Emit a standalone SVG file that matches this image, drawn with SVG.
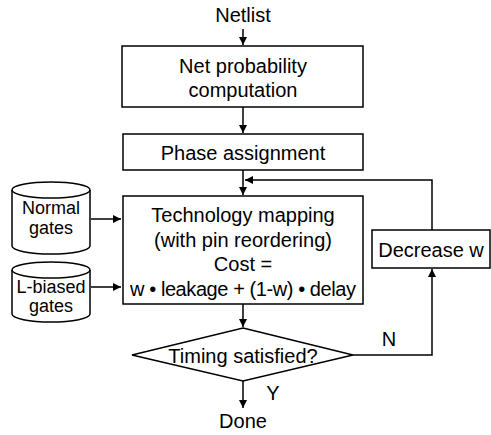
<svg xmlns="http://www.w3.org/2000/svg" width="491" height="435" viewBox="0 0 491 435">
<style>
.s{fill:#fff;stroke:#000;stroke-width:1.5}
.l{fill:none;stroke:#000;stroke-width:1.5}
text{font-family:"Liberation Sans",Arial,sans-serif;font-size:20px;fill:#000;text-anchor:middle}
.c{font-size:18px}
</style>
<defs>
<marker id="a" viewBox="0 0 10 10" refX="10" refY="5" markerWidth="8" markerHeight="8" markerUnits="userSpaceOnUse" orient="auto">
<path d="M0,0 L10,5 L0,10 Z" fill="#000"/>
</marker>
</defs>
<g id="connectors">
<line class="l" x1="243" y1="29" x2="243" y2="45" marker-end="url(#a)"/>
<line class="l" x1="243" y1="107" x2="243" y2="133" marker-end="url(#a)"/>
<line class="l" x1="243" y1="170" x2="243" y2="195" marker-end="url(#a)"/>
<polyline class="l" points="432,230 432,180 245,180" marker-end="url(#a)"/>
<line class="l" x1="91" y1="219" x2="121" y2="219" marker-end="url(#a)"/>
<line class="l" x1="91" y1="287" x2="121" y2="287" marker-end="url(#a)"/>
<line class="l" x1="243" y1="304" x2="243" y2="327" marker-end="url(#a)"/>
<polyline class="l" points="353,355 432,355 432,269" marker-end="url(#a)"/>
<line class="l" x1="243" y1="381" x2="243" y2="408" marker-end="url(#a)"/>
<text x="389" y="346">N</text>
<text x="273" y="400">Y</text>
</g>
<g id="netlist"><text x="243" y="22">Netlist</text></g>
<g id="netprob">
<rect class="s" x="122" y="46" width="241" height="61"/>
<text x="243" y="73">Net probability</text>
<text x="243" y="97">computation</text>
</g>
<g id="phase">
<rect class="s" x="123" y="134" width="240" height="36"/>
<text x="243" y="160">Phase assignment</text>
</g>
<g id="techmap">
<rect class="s" x="123" y="196" width="240" height="108"/>
<text x="243" y="222">Technology mapping</text>
<text x="243" y="247">(with pin reordering)</text>
<text x="243" y="271">Cost =</text>
<text x="243" y="296" textLength="226" lengthAdjust="spacing">w • leakage + (1-w) • delay</text>
</g>
<g id="normal">
<path class="s" d="M12,190 V246 A39,8 0 0 0 90,246 V190"/>
<ellipse class="s" cx="51" cy="190" rx="39" ry="8"/>
<text class="c" x="51" y="214">Normal</text>
<text class="c" x="51" y="234">gates</text>
</g>
<g id="lbiased">
<path class="s" d="M12,270 V314 A39,8 0 0 0 90,314 V270"/>
<ellipse class="s" cx="51" cy="270" rx="39" ry="8"/>
<text class="c" x="51" y="293">L-biased</text>
<text class="c" x="51" y="312">gates</text>
</g>
<g id="decision">
<polygon class="s" points="243,328 353,355 243,381 132,355"/>
<text x="243" y="363">Timing satisfied?</text>
</g>
<g id="decrease">
<rect class="s" x="372" y="230" width="118" height="38"/>
<text x="431" y="257">Decrease w</text>
</g>
<g id="done"><text x="243" y="428">Done</text></g>
</svg>
